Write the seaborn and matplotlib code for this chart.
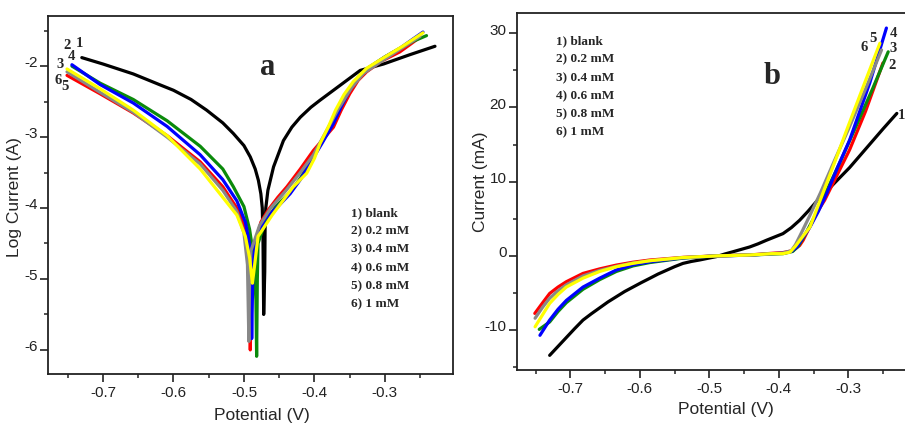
import matplotlib
matplotlib.use("Agg")
import matplotlib.pyplot as plt
import matplotlib.transforms as mtransforms
from matplotlib.ticker import MultipleLocator
import numpy as np
import pandas as pd
import seaborn as sns

# ---------------- data ----------------
curve_names = ["1", "2", "3", "4", "5", "6"]
legend_labels = ["1) blank", "2) 0.2 mM", "3) 0.4 mM", "4) 0.6 mM", "5) 0.8 mM", "6) 1 mM"]
curve_colors = ["#000000", "#ff0000", "#0b8a0b", "#0000ff", "#888888", "#ffff00"]

# Panel a : Tafel plots (log current vs potential)
a_x1 = [-0.730, -0.700, -0.657, -0.620, -0.600, -0.575, -0.553, -0.530, -0.515, -0.500, -0.491, -0.484,
        -0.4795, -0.476, -0.474, -0.473, -0.472, -0.4705, -0.470, -0.469, -0.466, -0.458, -0.444, -0.432,
        -0.420, -0.405, -0.392, -0.373, -0.354, -0.335, -0.302, -0.265, -0.229]
a_y1 = [-1.88, -1.97, -2.11, -2.26, -2.34, -2.47, -2.62, -2.80, -2.95, -3.12, -3.28, -3.45,
        -3.61, -3.80, -4.00, -4.40, -5.50, -4.90, -4.30, -4.00, -3.75, -3.42, -3.05, -2.86,
        -2.72, -2.58, -2.48, -2.34, -2.20, -2.06, -1.97, -1.84, -1.72]
a_x2 = [-0.751, -0.704, -0.657, -0.609, -0.562, -0.530, -0.510, -0.500, -0.494, -0.492, -0.491, -0.489,
        -0.486, -0.484, -0.476, -0.465, -0.452, -0.439, -0.420, -0.4015, -0.385, -0.373, -0.362, -0.350,
        -0.338, -0.326, -0.305, -0.279, -0.265, -0.250]
a_y2 = [-2.13, -2.39, -2.66, -2.98, -3.35, -3.70, -4.00, -4.25, -4.60, -5.20, -6.00, -5.00,
        -4.60, -4.50, -4.20, -4.02, -3.85, -3.70, -3.45, -3.19, -3.00, -2.86, -2.62, -2.39,
        -2.20, -2.08, -1.93, -1.80, -1.70, -1.59]
a_x3 = [-0.744, -0.704, -0.657, -0.609, -0.562, -0.530, -0.515, -0.500, -0.492, -0.486, -0.483, -0.482,
        -0.481, -0.480, -0.470, -0.455, -0.4346, -0.420, -0.4063, -0.390, -0.373, -0.362, -0.350, -0.338,
        -0.326, -0.300, -0.279, -0.260, -0.241]
a_y3 = [-2.00, -2.24, -2.47, -2.77, -3.13, -3.45, -3.70, -3.98, -4.30, -4.70, -5.30, -6.09,
        -5.00, -4.50, -4.20, -3.98, -3.78, -3.58, -3.35, -3.08, -2.80, -2.56, -2.33, -2.16,
        -2.04, -1.87, -1.75, -1.65, -1.57]
a_x4 = [-0.744, -0.704, -0.657, -0.609, -0.562, -0.530, -0.510, -0.498, -0.492, -0.490, -0.489, -0.487,
        -0.480, -0.470, -0.452, -0.4346, -0.420, -0.4063, -0.390, -0.373, -0.362, -0.350, -0.338, -0.326,
        -0.300, -0.279, -0.262, -0.246]
a_y4 = [-1.98, -2.26, -2.52, -2.85, -3.25, -3.60, -3.90, -4.20, -4.50, -5.00, -5.84, -4.70,
        -4.35, -4.15, -3.98, -3.80, -3.60, -3.37, -3.10, -2.81, -2.57, -2.34, -2.17, -2.04,
        -1.87, -1.75, -1.63, -1.52]
a_x5 = [-0.751, -0.704, -0.657, -0.609, -0.562, -0.530, -0.510, -0.500, -0.495, -0.493, -0.492, -0.490,
        -0.478, -0.462, -0.440, -0.420, -0.4015, -0.385, -0.366, -0.347, -0.330, -0.300, -0.272, -0.250]
a_y5 = [-2.08, -2.37, -2.65, -3.00, -3.38, -3.75, -4.05, -4.35, -4.80, -5.88, -5.00, -4.60,
        -4.25, -4.00, -3.75, -3.50, -3.25, -2.95, -2.60, -2.30, -2.10, -1.90, -1.72, -1.58]
a_x6 = [-0.751, -0.704, -0.657, -0.609, -0.562, -0.530, -0.510, -0.498, -0.492, -0.488, -0.486, -0.480,
        -0.472, -0.460, -0.445, -0.430, -0.411, -0.400, -0.392, -0.380, -0.370, -0.358, -0.345, -0.326,
        -0.300, -0.275, -0.246]
a_y6 = [-2.04, -2.32, -2.62, -2.98, -3.45, -3.85, -4.10, -4.40, -4.70, -5.06, -4.90, -4.40,
        -4.28, -4.10, -3.90, -3.70, -3.51, -3.30, -3.09, -2.85, -2.62, -2.40, -2.22, -2.03,
        -1.87, -1.72, -1.53]

# Panel b : linear polarization (current in mA vs potential)
b_x1 = [-0.730, -0.718, -0.706, -0.694, -0.682, -0.670, -0.658, -0.646, -0.634, -0.622, -0.610, -0.598,
        -0.586, -0.574, -0.562, -0.550, -0.538, -0.526, -0.514, -0.502, -0.490, -0.478, -0.466, -0.454,
        -0.442, -0.430, -0.418, -0.406, -0.394, -0.382, -0.370, -0.358, -0.346, -0.322, -0.298, -0.274,
        -0.250, -0.230]
b_y1 = [-13.4, -12.2, -11.0, -9.8, -8.65, -7.8, -7.0, -6.2, -5.5, -4.8, -4.2, -3.6,
        -3.03, -2.45, -1.95, -1.45, -1.01, -0.75, -0.55, -0.32, -0.10, 0.25, 0.56, 0.88,
        1.2, 1.62, 2.1, 2.55, 3.0, 3.8, 4.8, 6.0, 7.3, 9.6, 11.9, 14.5, 17.1, 19.2]
b_x2 = [-0.7514, -0.740, -0.730, -0.718, -0.706, -0.682, -0.658, -0.634, -0.610, -0.586, -0.538, -0.490,
        -0.442, -0.410, -0.394, -0.380, -0.370, -0.365, -0.355, -0.346, -0.334, -0.298, -0.275, -0.250]
b_y2 = [-7.75, -6.3, -5.06, -4.2, -3.48, -2.36, -1.75, -1.24, -0.85, -0.56, -0.2, 0.0,
        0.13, 0.35, 0.45, 0.7, 1.4, 2.1, 4.0, 5.7, 7.5, 14.3, 19.5, 26.0]
b_x3 = [-0.745, -0.730, -0.718, -0.706, -0.682, -0.658, -0.634, -0.610, -0.586, -0.538, -0.490, -0.442,
        -0.410, -0.394, -0.380, -0.372, -0.362, -0.350, -0.331, -0.310, -0.290, -0.265, -0.2424]
b_y3 = [-9.9, -8.9, -7.5, -6.3, -4.5, -3.2, -2.1, -1.35, -0.9, -0.3, 0.0, 0.1,
        0.25, 0.3, 0.6, 1.3, 2.9, 5.0, 8.8, 13.0, 17.2, 22.5, 27.5]
b_x4 = [-0.744, -0.730, -0.718, -0.706, -0.682, -0.658, -0.634, -0.610, -0.586, -0.538, -0.490, -0.442,
        -0.410, -0.394, -0.382, -0.374, -0.365, -0.355, -0.343, -0.331, -0.315, -0.298, -0.269, -0.245]
b_y4 = [-10.7, -8.65, -7.2, -6.0, -4.2, -3.0, -1.9, -1.2, -0.8, -0.25, 0.0, 0.1,
        0.3, 0.34, 0.6, 1.2, 2.5, 3.9, 6.0, 8.4, 12.0, 15.6, 23.3, 30.7]
b_x5 = [-0.751, -0.740, -0.730, -0.718, -0.706, -0.682, -0.658, -0.634, -0.610, -0.586, -0.538, -0.490,
        -0.442, -0.410, -0.394, -0.382, -0.376, -0.368, -0.355, -0.340, -0.320, -0.300, -0.275, -0.252]
b_y5 = [-8.4, -6.9, -5.7, -4.7, -3.9, -2.7, -1.95, -1.4, -0.95, -0.65, -0.22, 0.0,
        0.12, 0.3, 0.4, 0.7, 1.5, 3.0, 5.5, 8.5, 12.8, 17.0, 22.5, 27.75]
b_x6 = [-0.751, -0.740, -0.730, -0.718, -0.706, -0.682, -0.658, -0.634, -0.610, -0.586, -0.538, -0.490,
        -0.442, -0.410, -0.394, -0.384, -0.376, -0.368, -0.355, -0.340, -0.322, -0.300, -0.278, -0.2544]
b_y6 = [-9.55, -7.9, -6.4, -5.2, -4.2, -3.0, -2.1, -1.46, -1.0, -0.65, -0.22, 0.0,
        0.12, 0.3, 0.3, 0.5, 1.3, 2.3, 3.9, 7.6, 12.0, 17.5, 22.9, 28.65]

a_xticks = [-0.7, -0.6, -0.5, -0.4, -0.3]
a_yticks = [-2, -3, -4, -5, -6]
b_xticks = [-0.7, -0.6, -0.5, -0.4, -0.3]
b_yticks = [30, 20, 10, 0, -10]

# ---------------- style ----------------
sns.set_style("ticks")
plt.rcParams["font.family"] = ["Liberation Sans Narrow", "Liberation Sans", "DejaVu Sans"]
plt.rcParams["axes.linewidth"] = 1.3
plt.rcParams["axes.edgecolor"] = "#222222"

TICK_FONT = dict(family=["Liberation Sans Narrow", "Liberation Sans"], size=11)
LABEL_FONT = dict(family=["Liberation Sans", "DejaVu Sans"], size=12.5)
SERIF_BOLD = dict(family=["Liberation Serif", "DejaVu Serif"], weight="bold")


def make_frame(xs, ys):
    parts = []
    for name, x, y in zip(curve_names, xs, ys):
        parts.append(pd.DataFrame({"Potential": x, "Value": y, "curve": name,
                                   "idx": np.arange(len(x))}))
    return pd.concat(parts, ignore_index=True)


df_a = make_frame([a_x1, a_x2, a_x3, a_x4, a_x5, a_x6], [a_y1, a_y2, a_y3, a_y4, a_y5, a_y6])
df_b = make_frame([b_x1, b_x2, b_x3, b_x4, b_x5, b_x6], [b_y1, b_y2, b_y3, b_y4, b_y5, b_y6])
palette = dict(zip(curve_names, curve_colors))

fig = plt.figure(figsize=(9.05, 4.26), dpi=100)
ax_a = fig.add_axes([0.053, 0.122, 0.4475, 0.840])
ax_b = fig.add_axes([0.5713, 0.131, 0.44, 0.838])

for ax, df in ((ax_a, df_a), (ax_b, df_b)):
    sns.lineplot(data=df, x="Potential", y="Value", hue="curve", hue_order=curve_names,
                 palette=palette, sort=False, estimator=None, legend=False,
                 linewidth=2.3, ax=ax)

# axis limits & ticks
ax_a.set_xlim(-0.778, -0.2035)
ax_a.set_ylim(-6.34, -1.296)
ax_b.set_xlim(-0.777, -0.2035)
ax_b.set_ylim(-15.4, 32.7)

ax_a.set_xticks(a_xticks)
ax_a.set_yticks(a_yticks)
ax_b.set_xticks(b_xticks)
ax_b.set_yticks(b_yticks)
ax_a.set_xticklabels([f"{v:.1f}" for v in a_xticks])
ax_a.set_yticklabels([str(v) for v in a_yticks])
ax_b.set_xticklabels([f"{v:.1f}" for v in b_xticks])
ax_b.set_yticklabels([str(v) for v in b_yticks])
ax_a.xaxis.set_minor_locator(MultipleLocator(0.05))
ax_a.yaxis.set_minor_locator(MultipleLocator(0.5))
ax_b.xaxis.set_minor_locator(MultipleLocator(0.05))
ax_b.yaxis.set_minor_locator(MultipleLocator(5))

offset = mtransforms.ScaledTranslation(0, 3 / 72, fig.dpi_scale_trans)
for ax in (ax_a, ax_b):
    ax.tick_params(which="major", direction="out", length=6, width=1.2, color="#222222", pad=1.5)
    ax.tick_params(axis="x", which="major", pad=2.5)
    ax.tick_params(which="minor", direction="out", length=3, width=1.1, color="#222222")
    for lab in ax.get_xticklabels() + ax.get_yticklabels():
        lab.set_fontfamily(TICK_FONT["family"])
        lab.set_fontsize(TICK_FONT["size"])
        lab.set_color("#222222")
    for lab in ax.get_yticklabels():
        lab.set_transform(lab.get_transform() + offset)
    for sp in ax.spines.values():
        sp.set_visible(True)

ax_a.set_xlabel("Potential (V)", **LABEL_FONT)
ax_a.set_ylabel("Log Current (A)", **LABEL_FONT)
ax_b.set_xlabel("Potential (V)", **LABEL_FONT)
ax_b.set_ylabel("Current (mA)", **LABEL_FONT)
ax_a.xaxis.set_label_coords(0.528, -0.095)
ax_a.yaxis.set_label_coords(-0.064, 0.494)
ax_b.xaxis.set_label_coords(0.525, -0.090)
ax_b.yaxis.set_label_coords(-0.072, 0.527)

# panel letters
ax_a.text(0.543, 0.858, "a", transform=ax_a.transAxes, ha="center", va="center", size=22, **SERIF_BOLD)
ax_b.text(0.641, 0.824, "b", transform=ax_b.transAxes, ha="center", va="center", size=22, **SERIF_BOLD)

# legends as text lists
for i, lab in enumerate(legend_labels):
    ax_a.text(0.748, 0.450 - i * 0.0511, lab, transform=ax_a.transAxes, ha="left", va="center",
              size=9.5, **SERIF_BOLD)
    ax_b.text(0.098, 0.9216 - i * 0.0513, lab, transform=ax_b.transAxes, ha="left", va="center",
              size=9.5, **SERIF_BOLD)

# curve number tags
a_tag_pos = {"1": (0.079, 0.924), "2": (0.046, 0.919), "4": (0.058, 0.887), "3": (0.030, 0.866),
             "6": (0.025, 0.821), "5": (0.043, 0.803)}
b_tag_pos = {"4": (0.945, 0.944), "3": (0.945, 0.902), "2": (0.942, 0.854), "5": (0.894, 0.930),
             "6": (0.872, 0.903), "1": (0.965, 0.714)}
for name, (x, y) in a_tag_pos.items():
    ax_a.text(x, y, name, transform=ax_a.transAxes, ha="center", va="center", size=10.5, **SERIF_BOLD)
for name, (x, y) in b_tag_pos.items():
    ax_b.text(x, y, name, transform=ax_b.transAxes, ha="center", va="center", size=10.5, **SERIF_BOLD)

fig.savefig("out.png", dpi=100)
